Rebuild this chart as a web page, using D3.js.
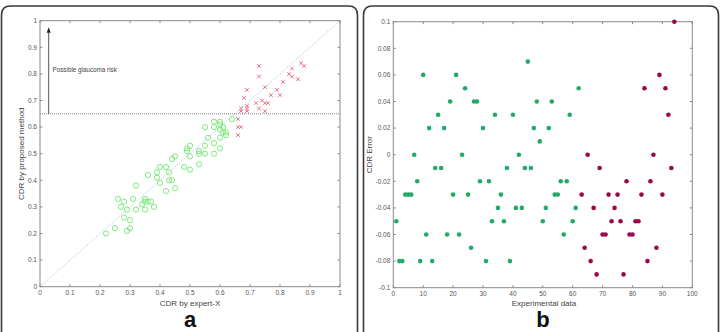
<!DOCTYPE html>
<html><head><meta charset="utf-8">
<script src="https://cdn.jsdelivr.net/npm/d3@7"></script>
<style>html,body{margin:0;padding:0;background:#fff;}svg{display:block;font-family:"Liberation Sans",Arial,sans-serif;}</style>
</head><body>
<script>
// Panel a: CDR by expert-X vs CDR by proposed method
const greenX = [0.22,0.25,0.26,0.27,0.28,0.28,0.29,0.29,0.30,0.30,0.31,0.32,0.32,0.34,0.35,0.35,0.35,0.36,0.36,0.37,0.38,0.39,0.39,0.40,0.40,0.42,0.42,0.43,0.43,0.44,0.44,0.45,0.45,0.48,0.49,0.49,0.50,0.50,0.50,0.53,0.53,0.53,0.55,0.55,0.55,0.56,0.58,0.58,0.58,0.58,0.60,0.60,0.60,0.60,0.60,0.61,0.61,0.62,0.62,0.64];
const greenY = [0.20,0.22,0.33,0.30,0.32,0.26,0.29,0.21,0.22,0.25,0.33,0.38,0.29,0.31,0.33,0.32,0.29,0.42,0.32,0.32,0.30,0.43,0.41,0.45,0.39,0.45,0.36,0.43,0.40,0.48,0.40,0.49,0.37,0.45,0.52,0.51,0.53,0.49,0.44,0.51,0.50,0.46,0.53,0.50,0.60,0.56,0.62,0.60,0.54,0.50,0.62,0.61,0.56,0.52,0.59,0.60,0.58,0.58,0.57,0.63];
const redX = [0.66,0.66,0.67,0.66,0.67,0.67,0.68,0.69,0.69,0.69,0.69,0.72,0.73,0.73,0.73,0.74,0.75,0.75,0.76,0.75,0.77,0.79,0.80,0.81,0.83,0.84,0.84,0.86,0.87,0.88];
const redY = [0.57,0.60,0.60,0.63,0.67,0.66,0.71,0.74,0.68,0.67,0.66,0.69,0.83,0.79,0.67,0.70,0.75,0.69,0.69,0.66,0.72,0.74,0.72,0.77,0.80,0.82,0.79,0.78,0.84,0.83];
const ticksA = [0,0.1,0.2,0.3,0.4,0.5,0.6,0.7,0.8,0.9,1];
const tickLabelsA = ["0","0.1","0.2","0.3","0.4","0.5","0.6","0.7","0.8","0.9","1"];
const riskThreshold = 0.65;
const riskLabel = "Possible glaucoma risk";

// Panel b: CDR error per experimental sample
const errGreen = [-0.05,-0.08,-0.08,-0.03,-0.03,-0.03,0,-0.02,-0.08,0.06,-0.06,0.02,-0.08,-0.01,0.03,-0.01,0.02,-0.06,0.04,-0.03,0.06,-0.06,0,0.05,-0.03,-0.07,0.04,0.04,-0.02,0.02,-0.08,-0.02,-0.05,0.03,-0.04,-0.03,-0.05,-0.01,-0.08,0.03,-0.04,0,-0.04,-0.01,0.07,-0.01,0.02,0.04,0.01,-0.05,-0.04,0.02,0.04,-0.03,-0.03,-0.02,-0.06,-0.02,0.03,-0.05,-0.04,0.05];
const errPurple = [-0.03,-0.07,0,-0.08,-0.04,-0.09,-0.01,-0.06,-0.06,-0.03,-0.05,-0.04,-0.03,-0.05,-0.09,-0.02,-0.06,-0.06,-0.05,-0.05,-0.03,0.05,-0.08,-0.02,0,-0.07,0.06,-0.03,0.05,0.03,-0.01,0.1];
const ticksBX = [0,10,20,30,40,50,60,70,80,90,100];
const ticksBY = [-0.1,-0.08,-0.06,-0.04,-0.02,0,0.02,0.04,0.06,0.08,0.1];
const tickLabelsBY = ["-0.1","-0.08","-0.06","-0.04","-0.02","0","0.02","0.04","0.06","0.08","0.1"];

const W = 721, H = 332;
const svg = d3.select("body").append("svg").attr("width", W).attr("height", H);

// panel frames
function frame(x0, x1) {
  const r = 9, y0 = 6, yb = H + 20;
  svg.append("path")
    .attr("d", `M${x0},${yb} L${x0},${y0 + r} Q${x0},${y0} ${x0 + r},${y0} L${x1 - r},${y0} Q${x1},${y0} ${x1},${y0 + r} L${x1},${yb}`)
    .attr("fill", "none").attr("stroke", "#3a3a3a").attr("stroke-width", 1.6);
}
frame(1.5, 357.5);
frame(363.5, 718.5);

const tickCol = "#555", axCol = "#8a8a8a";

function boxAxes(g, xs, ys, xt, xl, yt, yl) {
  const [xa, xb] = xs.range(), [ya, yb] = ys.range();
  g.append("rect").attr("x", xa).attr("y", yb).attr("width", xb - xa).attr("height", ya - yb)
    .attr("fill", "none").attr("stroke", axCol).attr("stroke-width", 1);
  const tl = 2.5;
  xt.forEach((t, i) => {
    const x = xs(t);
    g.append("line").attr("x1", x).attr("x2", x).attr("y1", ya).attr("y2", ya - tl).attr("stroke", axCol);
    g.append("line").attr("x1", x).attr("x2", x).attr("y1", yb).attr("y2", yb + tl).attr("stroke", axCol);
    g.append("text").attr("x", x).attr("y", ya + 8.5).attr("text-anchor", "middle")
      .attr("font-size", 6.5).attr("fill", tickCol).text(xl[i]);
  });
  yt.forEach((t, i) => {
    const y = ys(t);
    g.append("line").attr("x1", xa).attr("x2", xa + tl).attr("y1", y).attr("y2", y).attr("stroke", axCol);
    g.append("line").attr("x1", xb).attr("x2", xb - tl).attr("y1", y).attr("y2", y).attr("stroke", axCol);
    g.append("text").attr("x", xa - 3).attr("y", y + 2.3).attr("text-anchor", "end")
      .attr("font-size", 6.5).attr("fill", tickCol).text(yl[i]);
  });
}

// ---- Panel a ----
const ga = svg.append("g");
const xa = d3.scaleLinear().domain([0, 1]).range([40, 340]);
const ya = d3.scaleLinear().domain([0, 1]).range([286.7, 20.7]);

ga.append("line").attr("x1", xa(0)).attr("y1", ya(0)).attr("x2", xa(1)).attr("y2", ya(1))
  .attr("stroke", "#9fb0e0").attr("stroke-width", 0.9).attr("stroke-dasharray", "1.2,1.8");
ga.append("line").attr("x1", xa(0)).attr("x2", xa(1)).attr("y1", ya(riskThreshold)).attr("y2", ya(riskThreshold))
  .attr("stroke", "#777").attr("stroke-width", 0.9).attr("stroke-dasharray", "1,1");
ga.append("line").attr("x1", xa(0.029)).attr("x2", xa(0.029)).attr("y1", ya(riskThreshold)).attr("y2", ya(0.955))
  .attr("stroke", "#444").attr("stroke-width", 0.9);
ga.append("path").attr("d", `M${xa(0.029) - 2},${ya(0.955)} L${xa(0.029)},${ya(0.975)} L${xa(0.029) + 2},${ya(0.955)} Z`)
  .attr("fill", "#222");
ga.append("text").attr("x", 52.5).attr("y", 72).attr("font-size", 6.3).attr("fill", "#444").text(riskLabel);

ga.selectAll("circle.g").data(greenX).enter().append("circle")
  .attr("cx", (d) => xa(d)).attr("cy", (d, i) => ya(greenY[i])).attr("r", 2.6)
  .attr("fill", "none").attr("stroke", "#6fe86f").attr("stroke-width", 0.9);
const s = 1.8;
redX.forEach((d, i) => {
  const cx = xa(d), cy = ya(redY[i]);
  ga.append("path").attr("d", `M${cx - s},${cy - s}L${cx + s},${cy + s}M${cx - s},${cy + s}L${cx + s},${cy - s}`)
    .attr("stroke", "#ee7088").attr("stroke-width", 1);
});
boxAxes(ga, xa, ya, ticksA, tickLabelsA, ticksA, tickLabelsA);
ga.append("text").attr("x", 190).attr("y", 306).attr("text-anchor", "middle").attr("font-size", 8).attr("fill", "#444").text("CDR by expert-X");
ga.append("text").attr("transform", `translate(23.5,${ya(0.5)}) rotate(-90)`).attr("text-anchor", "middle")
  .attr("font-size", 8).attr("fill", "#444").text("CDR by proposed method");
ga.append("text").attr("x", 190).attr("y", 327).attr("text-anchor", "middle").attr("font-size", 22)
  .attr("font-weight", "bold").attr("fill", "#111").text("a");

// ---- Panel b ----
const gb = svg.append("g");
const xb = d3.scaleLinear().domain([0, 100]).range([393.3, 692.3]);
const yb = d3.scaleLinear().domain([-0.1, 0.1]).range([287.7, 21.7]);
boxAxes(gb, xb, yb, ticksBX, ticksBX.map(String), ticksBY, tickLabelsBY);
gb.selectAll("circle.g").data(errGreen).enter().append("circle")
  .attr("cx", (d, i) => xb(i + 1)).attr("cy", (d) => yb(d)).attr("r", 2.3).attr("fill", "#22aa66");
gb.selectAll("circle.p").data(errPurple).enter().append("circle")
  .attr("cx", (d, i) => xb(errGreen.length + i + 1)).attr("cy", (d) => yb(d)).attr("r", 2.3).attr("fill", "#990a4c");
gb.append("text").attr("x", 544).attr("y", 306).attr("text-anchor", "middle").attr("font-size", 8).attr("fill", "#444").text("Experimental data");
gb.append("text").attr("transform", `translate(372,${yb(0)}) rotate(-90)`).attr("text-anchor", "middle")
  .attr("font-size", 8).attr("fill", "#444").text("CDR Error");
gb.append("text").attr("x", 543).attr("y", 327).attr("text-anchor", "middle").attr("font-size", 22)
  .attr("font-weight", "bold").attr("fill", "#111").text("b");
</script>
</body></html>
